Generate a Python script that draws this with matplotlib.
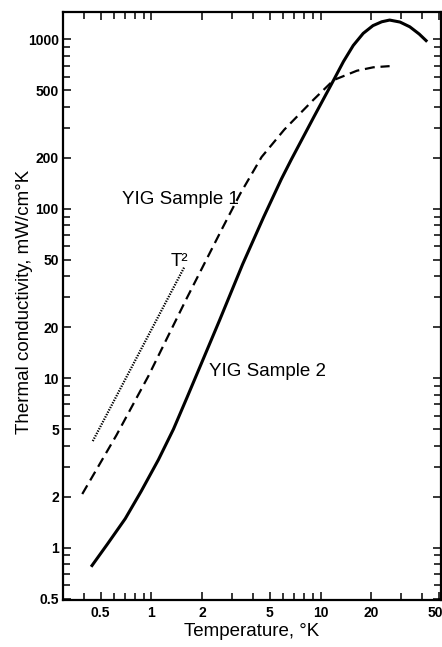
import matplotlib
matplotlib.use("Agg")
import matplotlib.pyplot as plt
from matplotlib.ticker import FixedLocator, FixedFormatter, NullFormatter
from matplotlib.transforms import ScaledTranslation

plt.rcParams['font.family'] = ['Liberation Sans', 'DejaVu Sans']

# YIG sample 2 (solid curve), T in K, k in mW/cm K
t_s2 = [0.44, 0.55, 0.70, 0.87, 1.10, 1.35, 1.62, 2.0, 2.53, 3.46, 4.60, 5.87, 6.71, 9.15,
        11.44, 11.95, 13.66, 15.6, 17.87, 20.4, 23.0, 25.6, 29.5, 33.7, 38.3, 42.7]
k_s2 = [0.77, 1.05, 1.48, 2.15, 3.3, 5.0, 7.65, 12.6, 22, 47, 89, 150, 195, 350,
        530, 575, 740, 920, 1085, 1205, 1270, 1300, 1265, 1186, 1075, 969]

# YIG sample 1 (dashed curve)
t_s1 = [0.39, 0.62, 0.96, 1.60, 2.61, 3.34, 4.48, 6.10, 9.14, 11.95, 16.4, 20.5, 25.6]
k_s1 = [2.07, 4.59, 10.3, 29, 75.8, 122, 202, 293, 443, 575, 653, 684, 695]

# T^2 guide (dotted)
t_sq = [0.45, 1.56]
k_sq = [4.25, 45]

x_major = [0.5, 1, 2, 5, 10, 20, 50]
x_major_labels = ["0.5", "1", "2", "5", "10", "20", "50"]
x_minor = [0.4, 0.6, 0.7, 0.8, 0.9, 3, 4, 6, 7, 8, 9, 30, 40]

y_major = [0.5, 1, 2, 5, 10, 20, 50, 100, 200, 500, 1000]
y_major_labels = ["0.5", "1", "2", "5", "10", "20", "50", "100", "200", "500", "1000"]
y_minor = [0.6, 0.7, 0.8, 0.9, 3, 4, 6, 7, 8, 9, 30, 40, 60, 70, 80, 90,
           300, 400, 600, 700, 800, 900]

fig = plt.figure(figsize=(4.42, 6.47), dpi=100)
ax = fig.add_axes([0.1425, 0.0726, 0.8545, 0.9096])

ax.plot(t_s2, k_s2, color='black', lw=2.2, solid_capstyle='butt', solid_joinstyle='round')
ax.plot(t_s1, k_s1, color='black', lw=1.6, dashes=(4.5, 2.6))
ax.plot(t_sq, k_sq, color='black', lw=1.6, linestyle=(0, (0.6, 0.6)))

ax.set_xscale('log')
ax.set_yscale('log')
ax.set_xlim(0.3, 51.3)
ax.set_ylim(0.49, 1460)

ax.xaxis.set_major_locator(FixedLocator(x_major))
ax.xaxis.set_major_formatter(FixedFormatter(x_major_labels))
ax.xaxis.set_minor_locator(FixedLocator(x_minor))
ax.xaxis.set_minor_formatter(NullFormatter())
ax.yaxis.set_major_locator(FixedLocator(y_major))
ax.yaxis.set_major_formatter(FixedFormatter(y_major_labels))
ax.yaxis.set_minor_locator(FixedLocator(y_minor))
ax.yaxis.set_minor_formatter(NullFormatter())

ax.tick_params(which='both', direction='in', top=True, right=True,
               length=6, width=1.1, color='black')
ax.tick_params(which='minor', length=5)
ax.tick_params(axis='x', which='major', pad=4.5, labelsize=10)
ax.tick_params(axis='y', which='major', pad=3, labelsize=10)
for lbl in ax.get_xticklabels() + ax.get_yticklabels():
    lbl.set_fontweight('bold')

# the "50" sits right at the figure edge, pull it in a little
last = ax.get_xticklabels()[-1]
last.set_transform(last.get_transform() + ScaledTranslation(-3 / 100, 0, fig.dpi_scale_trans))

for sp in ax.spines.values():
    sp.set_linewidth(1.6)

ax.set_xlabel("Temperature, °K", fontsize=13.5, labelpad=2)
ax.set_ylabel("Thermal conductivity, mW/cm°K", fontsize=13.5)
ax.yaxis.set_label_coords(-0.08, 0.506)

ax.text(0.67, 113, "YIG Sample 1", fontsize=13.5, ha='left', va='center')
ax.text(2.19, 11.0, "YIG Sample 2", fontsize=13.5, ha='left', va='center')
ax.text(1.47, 49, "T²", fontsize=13.5, ha='center', va='center')

fig.savefig("out.png", dpi=100, facecolor='white')
